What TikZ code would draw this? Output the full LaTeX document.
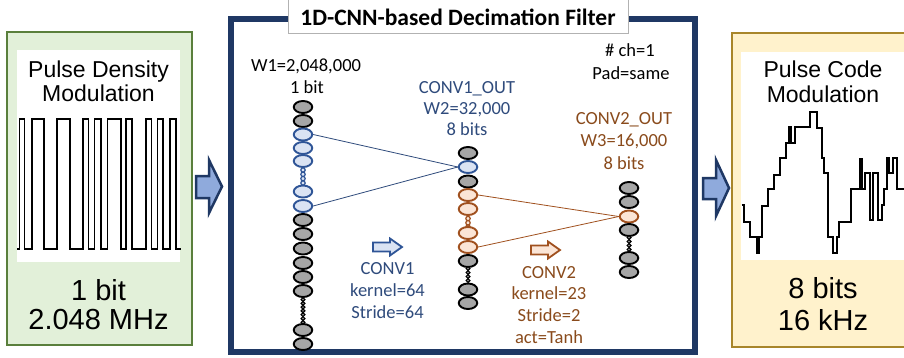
\documentclass[tikz,border=0pt]{standalone}
\usepackage{fontspec}
\newfontfamily\arialf{Liberation Sans}
\newfontfamily\calf{Carlito}
\usetikzlibrary{shapes.geometric}
\definecolor{navy}{HTML}{1F3864}
\definecolor{bigfill}{HTML}{8FAADC}
\definecolor{gfill}{HTML}{E2F0D9}
\definecolor{gborder}{HTML}{5A7F3C}
\definecolor{yfill}{HTML}{FFF2CC}
\definecolor{yborder}{HTML}{A8862A}
\definecolor{cgray}{HTML}{A6A6A6}
\definecolor{cbf}{HTML}{DAE3F3}
\definecolor{cbd}{HTML}{2F5597}
\definecolor{cof}{HTML}{FBE5D6}
\definecolor{cod}{HTML}{A0501E}
\definecolor{tnavy}{HTML}{2F4B7C}
\definecolor{tbrown}{HTML}{8A4B1C}
\begin{document}
\begin{tikzpicture}[x=1pt,y=-1pt,
 cell/.style={ellipse,minimum width=18.5pt,minimum height=12pt,inner sep=0pt,line width=1.9pt},
 gcell/.style={cell,draw=black,fill=cgray},
 bcell/.style={cell,draw=cbd,fill=cbf},
 ocell/.style={cell,draw=cod,fill=cof},
 pip/.style={circle,minimum size=4.4pt,inner sep=0pt,line width=1.2pt},
 gpip/.style={pip,draw=black,fill=cgray},
 bpip/.style={pip,draw=cbd,fill=cbf},
 opip/.style={pip,draw=cod,fill=cof},
 mtxt/.style={anchor=base,inner sep=0pt,font=\calf\fontsize{18.5}{21}\selectfont},
 ntxt/.style={mtxt,text=tnavy},
 btxt/.style={mtxt,text=tbrown},
 ktxt/.style={mtxt,text=black},
 stxt/.style={anchor=base,inner sep=0pt,font=\arialf\fontsize{23}{25}\selectfont},
 ltxt/.style={anchor=base,inner sep=0pt,font=\arialf\fontsize{29}{31}\selectfont},
 bigarrow/.style={draw=navy,fill=bigfill,line width=2.5pt,line join=miter},
 blink/.style={draw=tnavy,line width=0.8pt},
 olink/.style={draw=cod,line width=0.8pt},
 wave/.style={draw=black,line width=1.4pt,line join=miter},
]
\useasboundingbox (0,0) rectangle (904,357);
\clip (0,0) rectangle (904,357);
\fill[white] (0,0) rectangle (904,357);

% ---------- left PDM box ----------
\draw[fill=gfill,draw=gborder,line width=1.5pt] (7,32) rectangle (192,345);
\fill[white] (17,50) rectangle (180,262);
\node[stxt] (pdm1) at (98.5,77) {Pulse Density};
\node[stxt] (pdm2) at (98.5,101) {Modulation};
\node[ltxt] (pdm3) at (98.5,300) {1 bit};
\node[ltxt] (pdm4) at (98.5,329) {2.048 MHz};
\draw[wave,line width=1.3pt] (17,249)
 -- (19.5,249) -- (19.5,119) -- (24.5,119) -- (24.5,249)
 -- (32,249) -- (32,119) -- (44,119) -- (44,249)
 -- (57,249) -- (57,119) -- (70,119) -- (70,249)
 -- (83,249) -- (83,119) -- (88.5,119) -- (88.5,249)
 -- (94.5,249) -- (94.5,119) -- (101,119) -- (101,249)
 -- (107.5,249) -- (107.5,119) -- (121,119) -- (121,249)
 -- (126,249) -- (126,119) -- (132,119) -- (132,249)
 -- (146,249) -- (146,119) -- (151.5,119) -- (151.5,249)
 -- (157.5,249) -- (157.5,119) -- (163,119) -- (163,249)
 -- (170,249) -- (170,119) -- (176,119) -- (176,249)
 -- (181,249);

% ---------- big arrows ----------
\draw[bigarrow] (196,176) -- (209,176) -- (209,160) -- (222,186.5) -- (209,213) -- (209,198) -- (196,198) -- cycle;
\draw[bigarrow] (703,178) -- (716,178) -- (716,160) -- (729,188) -- (716,216) -- (716,199) -- (703,199) -- cycle;

% ---------- right PCM box ----------
\draw[fill=yfill,draw=yborder,line width=1.5pt] (732,33) rectangle (912,347);
\fill[white] (741,52) rectangle (912,260);
\node[stxt] (pcm1) at (823,77) {Pulse Code};
\node[stxt] (pcm2) at (823,102) {Modulation};
\node[ltxt] (pcm3) at (823,298) {8 bits};
\node[ltxt] (pcm4) at (823,330) {16 kHz};
\begin{scope}[shift={(735,100)},x=0.33333pt,y=-0.33333pt]
\draw[wave,line width=2.2pt] (20,315) -- (28,315) -- (28,365) -- (45,365) -- (45,410) -- (65,410) -- (65,459) -- (72,459) -- (72,410) -- (80,410) -- (80,318) -- (100,318) -- (100,268) -- (118,268) -- (118,225) -- (135,225) -- (135,175) -- (152,175) -- (152,128) -- (162,128) -- (162,80) -- (168,80) -- (168,128) -- (180,128) -- (180,80) -- (225,80) -- (225,35) -- (245,35) -- (245,85) -- (260,85) -- (260,175) -- (268,175) -- (268,220) -- (278,220) -- (278,410) -- (295,410) -- (295,459) -- (305,459) -- (305,410) -- (312,410) -- (312,365) -- (348,365) -- (348,268) -- (375,268) -- (375,178) -- (382,178) -- (382,268) -- (390,268) -- (390,220) -- (405,220) -- (405,360) -- (414,360) -- (414,220) -- (430,220) -- (430,360) -- (440,360) -- (440,315) -- (448,315) -- (448,268) -- (455,268) -- (455,175) -- (462,175) -- (462,220) -- (475,220) -- (475,175) -- (485,175) -- (485,268) -- (515,268);
\end{scope}

% ---------- middle CNN box ----------
\draw[navy,line width=6pt] (231,18.5) rectangle (695,352);
\draw[fill=white,draw=gray!60,line width=0.8pt] (288,-2) rectangle (628,33);
\node[anchor=base,inner sep=0pt,font=\calf\bfseries\fontsize{23.5}{25}\selectfont] (title) at (458,25) {1D-CNN-based Decimation Filter};

% left column
\node[gcell] (L1) at (303,107) {};
\node[gcell] (L2) at (303,121) {};
\node[bcell] (L3) at (303,134.5) {};
\node[bcell] (L4) at (303,148) {};
\node[bcell] (L5) at (303,161) {};
\foreach \yy [count=\i] in {170,174.3,178.6,183} \node[bpip] (lb\i) at (303,\yy) {};
\node[bcell] (L6) at (303,191.5) {};
\node[bcell] (L7) at (303,206) {};
\node[gcell] (L8) at (303,220) {};
\node[gcell] (L9) at (303,234) {};
\node[gcell] (L10) at (303,248.5) {};
\node[gcell] (L11) at (303,263) {};
\node[gcell] (L12) at (303,277) {};
\node[gcell] (L13) at (303,291) {};
\foreach \yy [count=\i] in {299.5,303.3,307.1,310.9,314.7,318.5,322.3} \node[gpip,minimum size=3.8pt] (lg\i) at (303,\yy) {};
\node[gcell] (L14) at (303,330) {};
\node[gcell] (L15) at (303,344) {};

% middle column
\node[gcell] (M1) at (468,153) {};
\node[bcell] (M2) at (468,167) {};
\node[gcell] (M3) at (468,181.5) {};
\node[ocell] (M4) at (468,195) {};
\node[ocell] (M5) at (468,209) {};
\foreach \yy [count=\i] in {218.5,222.8,227.1} \node[opip] (mo\i) at (468,\yy) {};
\node[ocell] (M6) at (468,233) {};
\node[ocell] (M7) at (468,247) {};
\node[gcell] (M8) at (468,261) {};
\foreach \yy [count=\i] in {268.5,272.5,276.5,280.5} \node[gpip,minimum size=3.8pt] (mg\i) at (468,\yy) {};
\node[gcell] (M9) at (468,289.5) {};
\node[gcell] (M10) at (468,303) {};

% right column
\node[gcell] (R1) at (629,188) {};
\node[gcell] (R2) at (629,202) {};
\node[ocell] (R3) at (629,216.5) {};
\node[gcell] (R4) at (629,230) {};
\foreach \yy [count=\i] in {237.5,241.5,245.5,249.5} \node[gpip,minimum size=3.8pt] (rg\i) at (629,\yy) {};
\node[gcell] (R5) at (629,258) {};
\node[gcell] (R6) at (629,272) {};

% connectors
\draw[blink] (L3.east) -- (M2.west);
\draw[blink] (L7.east) -- (M2.west);
\draw[olink] (M4.east) -- (R3.west);
\draw[olink] (M7.east) -- (R3.west);

% small arrows
\draw[draw=cbd,fill=cbf,line width=1.8pt,line join=miter] (373,242.5) -- (390,242.5) -- (390,238.5) -- (402,247) -- (390,255.5) -- (390,251.5) -- (373,251.5) -- cycle;
\draw[draw=cod,fill=cof,line width=1.8pt,line join=miter] (531,245.5) -- (548,245.5) -- (548,241.5) -- (560,250) -- (548,258.5) -- (548,254.5) -- (531,254.5) -- cycle;

% texts
\node[ktxt] (w1) at (306,71) {W1=2,048,000};
\node[ktxt] (b1) at (307,93) {1 bit};
\node[ntxt] (c1o) at (467,93) {CONV1\_OUT};
\node[ntxt] (w2) at (467,114) {W2=32,000};
\node[ntxt] (b2) at (467,135) {8 bits};
\node[ktxt] (ch) at (630,56) {\# ch=1};
\node[ktxt] (pad) at (631,79) {Pad=same};
\node[btxt] (c2o) at (624,124) {CONV2\_OUT};
\node[btxt] (w3) at (624,146) {W3=16,000};
\node[btxt] (b3) at (624,169) {8 bits};
\node[ntxt] (cv1) at (387.5,274) {CONV1};
\node[ntxt] (k1) at (387.5,296) {kernel=64};
\node[ntxt] (s1) at (387.5,318) {Stride=64};
\node[btxt] (cv2) at (549,278) {CONV2};
\node[btxt] (k2) at (549,299.5) {kernel=23};
\node[btxt] (s2) at (549,321) {Stride=2};
\node[btxt] (a2) at (549,343) {act=Tanh};
\end{tikzpicture}
\end{document}
